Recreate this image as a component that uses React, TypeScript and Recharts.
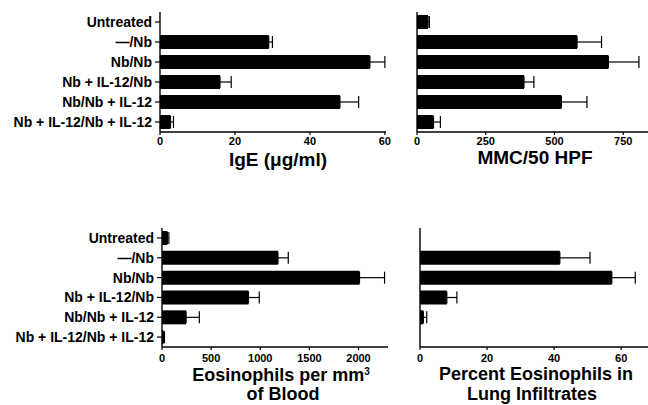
import React from 'react';
import { BarChart, Bar, XAxis, YAxis, ErrorBar } from 'recharts';

const categories = [
  'Untreated',
  '—/Nb',
  'Nb/Nb',
  'Nb + IL-12/Nb',
  'Nb/Nb + IL-12',
  'Nb + IL-12/Nb + IL-12',
];

const igeValues = [0, 29, 56, 16, 48, 2.8];
const igeErrors = [0, 1, 4, 3, 5, 0.8];
const igeTicks = [0, 20, 40, 60];

const mmcValues = [40, 582, 696, 389, 525, 60];
const mmcErrors = [5, 89, 111, 36, 93, 25];
const mmcTicks = [0, 250, 500, 750];

const bloodEosValues = [55, 1180, 2010, 880, 245, 15];
const bloodEosErrors = [15, 105, 255, 110, 135, 10];
const bloodEosTicks = [0, 500, 1000, 1500, 2000];

const lungEosValues = [0, 41.7, 57.2, 8, 1, 0];
const lungEosErrors = [0, 9, 7, 3, 1, 0];
const lungEosTicks = [0, 20, 40, 60];

const FONT = '"Liberation Sans", Arial, Helvetica, sans-serif';

function buildRows(values: number[], errors: number[]) {
  return categories.map((c, i) => ({ category: c, value: values[i], err: [0, errors[i]] }));
}

type PanelProps = {
  left: number;
  top: number;
  width: number;
  height: number;
  margin: { top: number; right: number; bottom: number; left: number };
  yAxisWidth: number;
  showLabels: boolean;
  domain: [number, number];
  ticks: number[];
  values: number[];
  errors: number[];
  xTickMargin: number;
};

function Panel(p: PanelProps) {
  const data = buildRows(p.values, p.errors);
  return (
    <div style={{ position: 'absolute', left: p.left, top: p.top, width: p.width, height: p.height }}>
      <BarChart width={p.width} height={p.height} data={data} layout="vertical" margin={p.margin}>
        <XAxis
          type="number"
          domain={p.domain}
          ticks={p.ticks}
          allowDataOverflow
          height={20}
          tickSize={3}
          tickMargin={p.xTickMargin}
          axisLine={{ stroke: '#000', strokeWidth: 1.4 }}
          tickLine={{ stroke: '#000', strokeWidth: 1.2 }}
          tick={{ fill: '#000', fontSize: 11, fontWeight: 700, fontFamily: FONT }}
        />
        <YAxis
          type="category"
          dataKey="category"
          width={p.yAxisWidth}
          tickSize={5}
          tickMargin={3}
          interval={0}
          axisLine={{ stroke: '#000', strokeWidth: 1.4 }}
          tickLine={{ stroke: '#000', strokeWidth: 1.2 }}
          tick={p.showLabels ? { fill: '#000', fontSize: 14, fontWeight: 700, fontFamily: FONT } : false}
        />
        <Bar dataKey="value" fill="#000" barSize={14} isAnimationActive={false}>
          <ErrorBar dataKey="err" direction="x" width={6} stroke="#000" strokeWidth={1.2} isAnimationActive={false} />
        </Bar>
      </BarChart>
    </div>
  );
}

export default function App() {
  return (
    <div style={{ position: 'absolute', left: 0, top: 0, width: 648, height: 405, background: '#fff', overflow: 'hidden' }}>
      <Panel left={0} top={0} width={400} height={152} margin={{ top: 12, right: 14, bottom: 0, left: 0 }}
        yAxisWidth={160} showLabels domain={[0, 60.3]} ticks={igeTicks} values={igeValues} errors={igeErrors} xTickMargin={2} />
      <Panel left={400} top={0} width={248} height={152} margin={{ top: 12, right: 0, bottom: 0, left: 0 }}
        yAxisWidth={17} showLabels={false} domain={[0, 840]} ticks={mmcTicks} values={mmcValues} errors={mmcErrors} xTickMargin={2} />
      <Panel left={0} top={215} width={400} height={152} margin={{ top: 13, right: 12, bottom: 0, left: 0 }}
        yAxisWidth={162} showLabels domain={[0, 2300]} ticks={bloodEosTicks} values={bloodEosValues} errors={bloodEosErrors} xTickMargin={4} />
      <Panel left={400} top={215} width={248} height={152} margin={{ top: 13, right: 0, bottom: 0, left: 0 }}
        yAxisWidth={20} showLabels={false} domain={[0, 68]} ticks={lungEosTicks} values={lungEosValues} errors={lungEosErrors} xTickMargin={4} />
      <svg width={648} height={405} style={{ position: 'absolute', left: 0, top: 0, pointerEvents: 'none' }}>
        <g fontFamily={FONT} fontWeight={700} fill="#000" textAnchor="middle">
          <text x={278} y={166} fontSize={19}>IgE (μg/ml)</text>
          <text x={535} y={164} fontSize={19}>MMC/50 HPF</text>
          <text x={281} y={381} fontSize={18}>
            Eosinophils per mm<tspan fontSize={10} dy={-6}>3</tspan>
          </text>
          <text x={283} y={400} fontSize={18}>of Blood</text>
          <text x={536} y={380} fontSize={18}>Percent Eosinophils in</text>
          <text x={532} y={400} fontSize={18}>Lung Infiltrates</text>
        </g>
      </svg>
    </div>
  );
}
